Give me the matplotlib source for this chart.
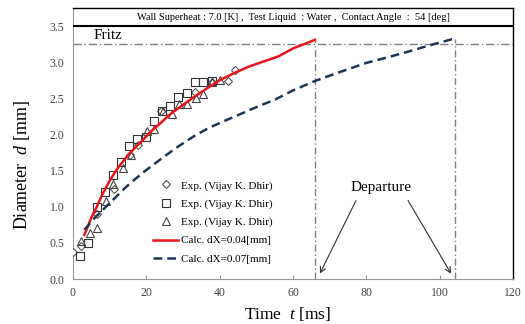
import matplotlib
matplotlib.use("Agg")
import matplotlib.pyplot as plt
import numpy as np

plt.rcParams['font.family'] = ['Liberation Serif', 'DejaVu Serif']
plt.rcParams['mathtext.fontset'] = 'custom'
plt.rcParams['mathtext.rm'] = 'Liberation Serif'
plt.rcParams['mathtext.it'] = 'Liberation Serif:italic'

# Experimental data (Vijay K. Dhir)
diam_t = [0.1, 2.1, 6.6, 11.2, 15.5, 17.8, 24.0, 33.3, 37.8, 42.4, 44.2]
diam_d = [0.38, 0.45, 0.90, 1.24, 1.71, 1.85, 2.33, 2.59, 2.72, 2.74, 2.89]

sq_t = [1.9, 4.2, 6.5, 8.7, 10.8, 13.1, 15.4, 17.5, 19.9, 22.1, 24.2, 26.5, 28.7, 31.0, 33.3, 35.5, 37.8]
sq_d = [0.32, 0.50, 0.99, 1.20, 1.44, 1.62, 1.84, 1.94, 1.97, 2.18, 2.33, 2.40, 2.52, 2.57, 2.73, 2.72, 2.74]

tri_t = [2.1, 4.5, 6.6, 8.9, 11.0, 13.5, 15.7, 20.1, 22.2, 24.5, 26.9, 28.9, 31.2, 33.5, 35.5, 37.8, 40.1]
tri_d = [0.52, 0.63, 0.71, 1.08, 1.31, 1.53, 1.71, 2.05, 2.08, 2.32, 2.28, 2.42, 2.42, 2.51, 2.56, 2.72, 2.76]

# Calculations
calc1_t = [3.1, 5.0, 6.5, 8.0, 10.0, 12.0, 14.6, 17.0, 19.2, 21.0, 23.7, 27.0, 30.0, 32.8,
           36.0, 40.0, 44.0, 48.0, 52.0, 56.0, 60.0, 63.0, 66.0]
calc1_d = [0.61, 0.85, 1.00, 1.17, 1.36, 1.52, 1.69, 1.82, 1.93, 2.03, 2.15, 2.30, 2.41, 2.51,
           2.62, 2.75, 2.85, 2.94, 3.01, 3.08, 3.19, 3.25, 3.31]

calc2_t = [3.1, 6.0, 10.0, 14.6, 19.0, 23.7, 28.0, 32.8, 37.0, 41.9, 46.0, 51.0, 55.0, 60.0,
           66.0, 72.0, 80.0, 86.0, 91.0, 97.0, 103.5]
calc2_d = [0.68, 0.85, 1.05, 1.28, 1.47, 1.65, 1.81, 1.97, 2.09, 2.20, 2.29, 2.40, 2.48, 2.61,
           2.74, 2.85, 2.99, 3.07, 3.14, 3.23, 3.32]

fritz_d = 3.25
departure_t = [66.0, 104.2]
departure_d = [3.31, 3.32]

xticks = [0, 20, 40, 60, 80, 100, 120]
yticks = [0.0, 0.5, 1.0, 1.5, 2.0, 2.5, 3.0, 3.5]

fig = plt.figure(figsize=(5.25, 3.24), dpi=100)
ax = fig.add_axes([73/525, 1-279/324, 440/525, 271/324])
ax.set_xlim(0, 120)
ax.set_ylim(0, 3.75)

ax.plot(diam_t, diam_d, linestyle='none', marker='D', markersize=4.5, mfc='white', mec='#555555', mew=0.8,
        label='Exp. (Vijay K. Dhir)', zorder=3)
ax.plot(sq_t, sq_d, linestyle='none', marker='s', markersize=6, mfc='none', mec='#333333', mew=0.8,
        label='Exp. (Vijay K. Dhir)', zorder=3)
ax.plot(tri_t, tri_d, linestyle='none', marker='^', markersize=6, mfc='none', mec='#444444', mew=0.8,
        label='Exp. (Vijay K. Dhir)', zorder=3)
ax.plot(calc1_t, calc1_d, color='#e8141b', lw=1.8, label='Calc. dX=0.04[mm]', zorder=4)
ax.plot(calc2_t, calc2_d, color='#1f3556', lw=1.8, ls=(0, (3.5, 2)), label='Calc. dX=0.07[mm]', zorder=4)

# Fritz line
ax.axhline(fritz_d, color='#808080', lw=1.0, ls=(0, (6, 2, 1, 2)), zorder=1)
ax.text(9.5, 3.365, 'Fritz', fontsize=11, ha='center', va='center')

# Departure lines
for t, d in zip(departure_t, departure_d):
    ax.plot([t, t], [0, d], color='#808080', lw=1.0, ls=(0, (5, 2, 1, 2)), zorder=1)

ax.text(84, 1.27, 'Departure', fontsize=11, ha='center', va='center')
ax.annotate('', xy=(67.0, 0.04), xytext=(77.5, 1.12),
            arrowprops=dict(arrowstyle='->', color='#333333', lw=0.8))
ax.annotate('', xy=(103.5, 0.04), xytext=(91.0, 1.12),
            arrowprops=dict(arrowstyle='->', color='#333333', lw=0.8))

# Header box
ax.axhline(3.5, color='black', lw=1.5, zorder=5)
ax.text(60, 3.625, 'Wall Superheat : 7.0 [K] ,  Test Liquid  : Water ,  Contact Angle  :  54 [deg]',
        fontsize=7.5, ha='center', va='center')

ax.set_xticks(xticks)
ax.set_yticks(yticks)
ax.set_yticklabels([f'{v:.1f}' for v in yticks])
ax.tick_params(direction='in', length=3, labelsize=8.5, colors='#444444', color='#999999')
ax.tick_params(axis='y', length=0, pad=6)
ax.tick_params(axis='x', pad=6)
for s in ['left', 'bottom']:
    ax.spines[s].set_color('#999999')
for s in ['top', 'right']:
    ax.spines[s].set_color('black')
    ax.spines[s].set_linewidth(1.0)

ax.set_xlabel('Time  $t$ [ms]', fontsize=12.5)
ax.set_ylabel('Diameter  $d$ [mm]', fontsize=13)
ax.xaxis.set_label_coords(0.487, -0.095)
ax.yaxis.set_label_coords(-0.093, 0.42)

leg = ax.legend(loc='lower left', bbox_to_anchor=(0.16, 0.02), frameon=False, fontsize=8,
                handlelength=2.2, handletextpad=0.3, labelspacing=0.75)

fig.savefig('out.png', dpi=100)
